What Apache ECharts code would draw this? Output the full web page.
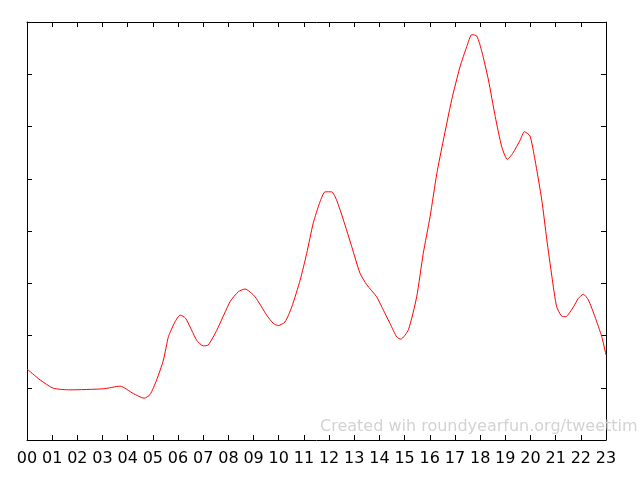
<!DOCTYPE html>
<html>
<head>
<meta charset="utf-8">
<script src="https://cdn.jsdelivr.net/npm/echarts@6/dist/echarts.min.js"></script>
<style>html,body{margin:0;padding:0;background:#fff}#c{width:640px;height:480px}</style>
</head>
<body>
<div id="c"></div>
<script>
const hours = [0, 0.52, 1.05, 1.71, 3.03, 3.70, 4.22, 4.65, 4.89, 5.15, 5.42, 5.62, 5.88, 6.08, 6.30, 6.74, 7.00, 7.20, 7.54, 8.07, 8.40, 8.66, 9.06, 9.52, 9.79, 9.98, 10.25, 10.52, 10.85, 11.11, 11.37, 11.64, 11.84, 12.10, 12.30, 12.57, 12.90, 13.23, 13.50, 13.89, 14.09, 14.42, 14.69, 14.85, 15.15, 15.48, 15.74, 16.01, 16.28, 16.54, 16.87, 17.20, 17.47, 17.67, 17.87, 18.07, 18.33, 18.60, 18.86, 19.08, 19.30, 19.59, 19.76, 19.98, 20.18, 20.45, 20.65, 20.85, 21.04, 21.24, 21.40, 21.71, 21.90, 22.10, 22.30, 22.56, 22.83, 23.0];
const values = [1.36, 1.15, 0.99, 0.96, 0.98, 1.03, 0.89, 0.80, 0.87, 1.15, 1.53, 1.98, 2.26, 2.39, 2.33, 1.91, 1.80, 1.82, 2.10, 2.65, 2.84, 2.89, 2.74, 2.39, 2.23, 2.19, 2.26, 2.55, 3.06, 3.57, 4.15, 4.56, 4.75, 4.75, 4.59, 4.21, 3.70, 3.19, 2.97, 2.74, 2.55, 2.23, 1.97, 1.93, 2.11, 2.74, 3.57, 4.27, 5.10, 5.74, 6.51, 7.14, 7.53, 7.76, 7.73, 7.43, 6.89, 6.19, 5.61, 5.37, 5.49, 5.74, 5.90, 5.82, 5.36, 4.59, 3.83, 3.13, 2.55, 2.37, 2.36, 2.55, 2.71, 2.79, 2.68, 2.36, 1.98, 1.63];
const tickLabels = ['00','01','02','03','04','05','06','07','08','09','10','11','12','13','14','15','16','17','18','19','20','21','22','23'];
const watermark = 'Created wih roundyearfun.org/tweettim';

const chart = echarts.init(document.getElementById('c'), null, {renderer: 'canvas'});
const axisLine = {show: true, onZero: false, lineStyle: {color: '#000', width: 1}};
const axisTick = {show: true, inside: true, length: 5, lineStyle: {color: '#000', width: 1}};
chart.setOption({
  animation: false,
  backgroundColor: '#fff',
  grid: {left: 27, right: 34, top: 22, bottom: 40, containLabel: false},
  xAxis: [
    {type: 'value', position: 'bottom', min: 0, max: 23, interval: 1,
     axisLine: axisLine, axisTick: axisTick, splitLine: {show: false},
     axisLabel: {show: true, margin: 11, color: '#000', fontFamily: 'DejaVu Sans', fontSize: 16,
       formatter: v => tickLabels[Math.round(v)] || ''}},
    {type: 'value', position: 'top', min: 0, max: 23, interval: 1,
     axisLine: axisLine, axisTick: axisTick, splitLine: {show: false}, axisLabel: {show: false}}
  ],
  yAxis: [
    {type: 'value', position: 'left', min: 0, max: 8, interval: 1,
     axisLine: axisLine, axisTick: axisTick, splitLine: {show: false}, axisLabel: {show: false}},
    {type: 'value', position: 'right', min: 0, max: 8, interval: 1,
     axisLine: axisLine, axisTick: axisTick, splitLine: {show: false}, axisLabel: {show: false}}
  ],
  series: [{
    type: 'line',
    data: hours.map((h, i) => [h, values[i]]),
    smooth: 0.2,
    showSymbol: false,
    lineStyle: {color: '#ff0000', width: 1},
    itemStyle: {color: '#ff0000'}
  }],
  graphic: [{
    type: 'text', left: 320, top: 419, z: 100,
    style: {text: watermark, fill: '#d3d3d3', font: '16px "DejaVu Sans"'}
  }]
});
</script>
</body>
</html>
